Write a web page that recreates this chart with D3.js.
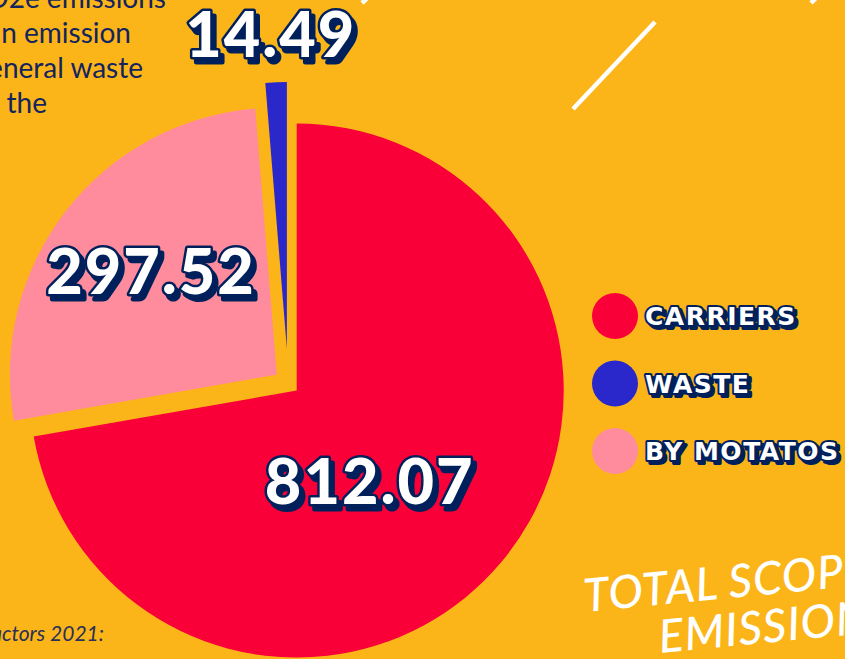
<!DOCTYPE html>
<html>
<head>
<meta charset="utf-8">
<script src="https://d3js.org/d3.v7.min.js"></script>
<style>
  body { margin: 0; background: #FBB519; overflow: hidden; }
  svg { display: block; }
</style>
</head>
<body>
<div id="chart"></div>
<script>
// data
var categories = ["Carriers", "Waste", "By Motatos"];
var values = [812.07, 14.49, 297.52];
var legendLabels = ["CARRIERS", "WASTE", "BY MOTATOS"];
var introLines = ["CO2e emissions", "an emission", "general waste", "the"];

var data = categories.map(function(c, i) { return {name: c, value: values[i]}; });

var width = 845, height = 659;
var navy = "#00205B";

var color = d3.scaleOrdinal()
  .domain(categories)
  .range(["#FA0039", "#2A27CB", "#FE8C9C"]);

// how far each slice is pulled out, and where its number sits
var explode = {"Carriers": 11, "Waste": 34.5, "By Motatos": 14.5};
var labelPos = {
  "Carriers":   {r: 116, shift: 11.6},
  "Waste":      {r: 314, shift: -0.8},
  "By Motatos": {r: 163, shift: 1.2}
};

var svg = d3.select("#chart").append("svg")
  .attr("width", width)
  .attr("height", height);

svg.append("rect").attr("width", width).attr("height", height).attr("fill", "#FBB519");

// decorative strokes
var deco = [[573, 109, 655, 22], [362, 3, 376, -10], [811, 3, 822, -8]];
svg.selectAll("line.deco").data(deco).enter().append("line")
  .attr("class", "deco")
  .attr("x1", function(d) { return d[0]; }).attr("y1", function(d) { return d[1]; })
  .attr("x2", function(d) { return d[2]; }).attr("y2", function(d) { return d[3]; })
  .attr("stroke", "#fff").attr("stroke-width", 4.5);

// intro paragraph (cut off at the left edge)
var introEnds = [166, 131, 143, 47];
svg.selectAll("text.intro").data(introLines).enter().append("text")
  .attr("class", "intro")
  .attr("x", function(d, i) { return introEnds[i]; })
  .attr("y", function(d, i) { return 8 + i * 35; })
  .attr("text-anchor", "end")
  .attr("fill", "#13245F")
  .style("font-family", "Lato, 'Open Sans', sans-serif")
  .style("font-size", "28px")
  .text(function(d) { return d; });

svg.append("text")
  .attr("x", 104).attr("y", 641)
  .attr("text-anchor", "end")
  .attr("fill", "#2B3158")
  .style("font-family", "Lato, 'Open Sans', sans-serif")
  .style("font-style", "italic")
  .style("font-size", "21px")
  .text("Emission factors 2021:");

// pie
var cx = 288.3, cy = 383.5, radius = 267;
var pie = d3.pie().value(function(d) { return d.value; });   // default sort: largest first
var arc = d3.arc().innerRadius(0).outerRadius(radius);
var arcs = pie(data);

function polar(angle, r) {
  return [Math.sin(angle) * r, -Math.cos(angle) * r];
}

var g = svg.append("g").attr("transform", "translate(" + cx + "," + cy + ")");

var slice = g.selectAll("g.slice").data(arcs).enter().append("g")
  .attr("class", "slice")
  .attr("transform", function(d) {
    var mid = (d.startAngle + d.endAngle) / 2;
    var p = polar(mid, explode[d.data.name]);
    return "translate(" + p[0] + "," + p[1] + ")";
  });

slice.append("path")
  .attr("d", arc)
  .attr("fill", function(d) { return color(d.data.name); });

// outlined value labels with a drop shadow
function labelXY(d) {
  var mid = (d.startAngle + d.endAngle) / 2;
  var lp = labelPos[d.data.name];
  return polar(mid + lp.shift * Math.PI / 180, lp.r);
}

function fancyText(sel, family, size, dx, dy) {
  sel.attr("transform", "translate(" + dx + "," + dy + ")")
    .style("font-family", family)
    .style("font-weight", 900)
    .style("font-size", size + "px")
    .attr("stroke", navy)
    .attr("stroke-linejoin", "round")
    .attr("paint-order", "stroke");
  return sel;
}

var numFont = "Lato, Roboto, sans-serif";
var labels = slice.append("g")
  .attr("transform", function(d) {
    var p = labelXY(d);
    return "translate(" + (p[0] + 1) + "," + p[1] + ")";
  });

fancyText(labels.append("text"), numFont, 63, 4, 5)
  .attr("text-anchor", "middle").attr("y", 22)
  .attr("fill", navy).attr("stroke-width", 5)
  .style("letter-spacing", "2px")
  .text(function(d) { return d3.format(".2f")(d.data.value); });

fancyText(labels.append("text"), numFont, 63, 0, 0)
  .attr("text-anchor", "middle").attr("y", 22)
  .attr("fill", "#fff").attr("stroke-width", 5)
  .style("letter-spacing", "2px")
  .text(function(d) { return d3.format(".2f")(d.data.value); });

// legend
var legendY = d3.scalePoint().domain(categories).range([316, 451]);
var legFont = "'DejaVu Sans', Verdana, sans-serif";

var legend = svg.selectAll("g.legend").data(data).enter().append("g")
  .attr("class", "legend")
  .attr("transform", function(d) { return "translate(615," + legendY(d.name) + ")"; });

legend.append("circle")
  .attr("r", 23)
  .attr("fill", function(d) { return color(d.name); });

fancyText(legend.append("text"), legFont, 25, 3, 3)
  .attr("x", 30).attr("y", 9)
  .attr("fill", navy).attr("stroke-width", 4)
  .style("letter-spacing", "1.5px")
  .text(function(d, i) { return legendLabels[i]; });

fancyText(legend.append("text"), legFont, 25, 0, 0)
  .attr("x", 30).attr("y", 9)
  .attr("fill", "#fff").attr("stroke-width", 4)
  .style("letter-spacing", "1.5px")
  .text(function(d, i) { return legendLabels[i]; });

// rotated title at bottom right
var title = svg.append("g").attr("transform", "translate(585,612) rotate(-5.5)");
title.selectAll("text").data(["TOTAL SCOPE 3", "EMISSIONS"]).enter().append("text")
  .attr("x", function(d, i) { return i * 71; })
  .attr("y", function(d, i) { return i * 48; })
  .attr("fill", "#fff")
  .style("font-family", "Lato, 'Open Sans', sans-serif")
  .style("font-style", "italic")
  .style("font-weight", 500)
  .style("font-size", "46px")
  .style("letter-spacing", "1px")
  .text(function(d) { return d; });
</script>
</body>
</html>
